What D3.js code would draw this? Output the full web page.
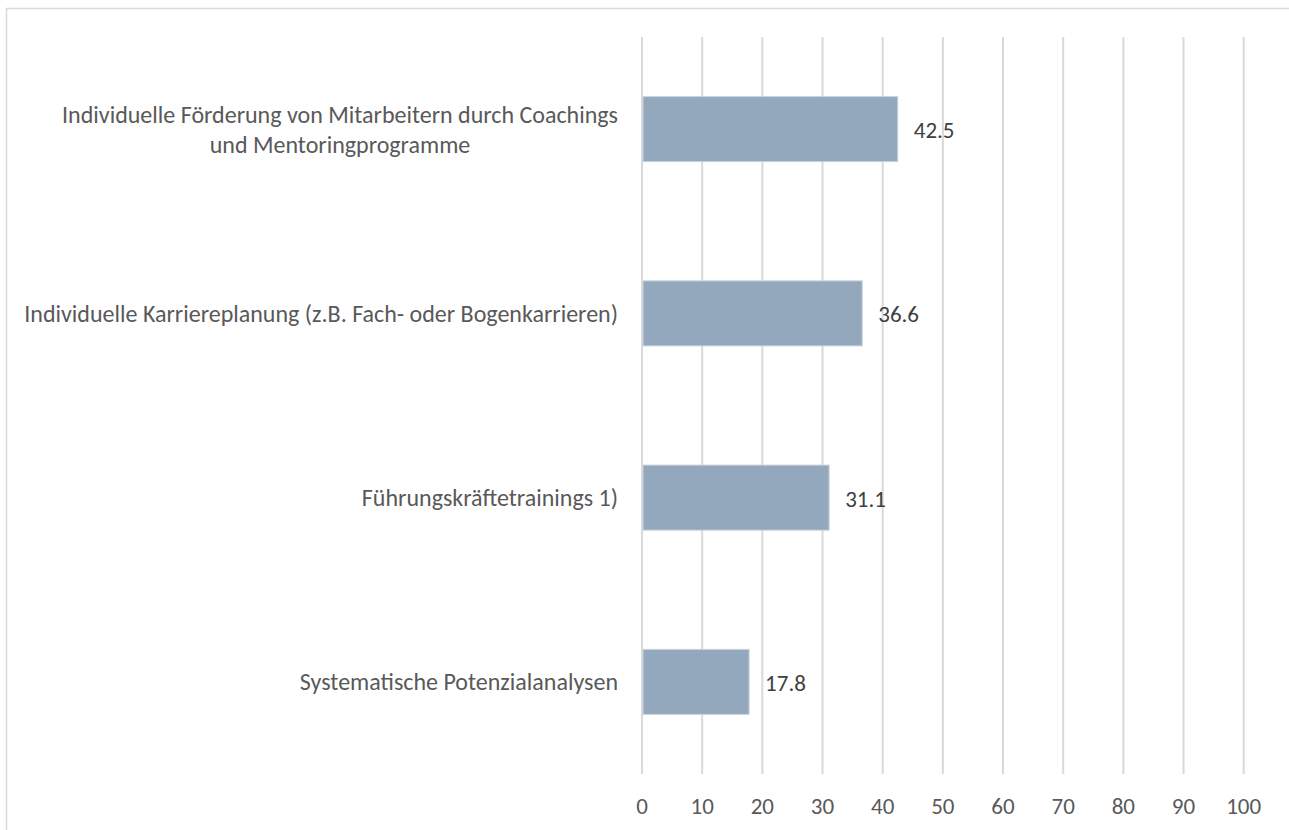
<!DOCTYPE html>
<html>
<head>
<meta charset="utf-8">
<script src="https://cdn.jsdelivr.net/npm/d3@7"></script>
<style>
  body { margin: 0; background: #fff; }
  svg { display: block; }
  text { font-family: Carlito, Calibri, Lato, sans-serif; }
</style>
</head>
<body>
<svg class="chart" width="1289" height="830"></svg>
<script>
const categories = [
  ["Individuelle Förderung von Mitarbeitern durch Coachings", "und Mentoringprogramme"],
  ["Individuelle Karriereplanung (z.B. Fach- oder Bogenkarrieren)"],
  ["Führungskräftetrainings 1)"],
  ["Systematische Potenzialanalysen"]
];
const values = [42.5, 36.6, 31.1, 17.8];
const tickValues = [0, 10, 20, 30, 40, 50, 60, 70, 80, 90, 100];

const svg = d3.select("svg.chart");

// outer frame, runs off the right and bottom edge
svg.append("rect")
  .attr("x", 6.5).attr("y", 8.5)
  .attr("width", 1300).attr("height", 900)
  .attr("fill", "none")
  .attr("stroke", "#d9d9d9")
  .attr("stroke-width", 1.5)

const x = d3.scaleLinear()
  .domain([0, 100])
  .range([642, 1243.7])

const y = d3.scaleBand()
  .domain(d3.range(values.length))
  .range([37, 774])
  .paddingInner(0.647)
  .paddingOuter(0.3235)

// gridlines
svg.append("g")
  .selectAll("line")
  .data(tickValues)
  .enter()
  .append("line")
  .attr("x1", d => x(d)).attr("x2", d => x(d))
  .attr("y1", 37).attr("y2", 774)
  .attr("stroke", "#d9d9d9")
  .attr("stroke-width", 2)

// tick labels
svg.append("g")
  .selectAll("text")
  .data(tickValues)
  .enter()
  .append("text")
  .attr("x", d => x(d))
  .attr("y", 806)
  .attr("dy", "0.35em")
  .attr("text-anchor", "middle")
  .attr("fill", "#595959")
  .style("font-size", "23px")
  .text(d => d)

// bars
svg.append("g")
  .selectAll("rect")
  .data(values)
  .enter()
  .append("rect")
  .attr("x", x(0) + 1)
  .attr("y", (d, i) => y(i))
  .attr("width", d => x(d) - x(0) - 1)
  .attr("height", y.bandwidth())
  .attr("fill", "#93a8bc")
  .attr("stroke", "#c8d3de")
  .attr("stroke-width", 1)

// value labels
svg.append("g")
  .selectAll("text")
  .data(values)
  .enter()
  .append("text")
  .attr("x", d => x(d) + 16)
  .attr("y", (d, i) => y(i) + y.bandwidth() / 2 + 1)
  .attr("dy", "0.35em")
  .attr("fill", "#404040")
  .style("font-size", "23px")
  .text(d => d.toFixed(1))

// category labels, lines centred on each other, block right aligned
const labelRight = 618;
const lineH = 30;
const catGroup = svg.append("g")
  .selectAll("text")
  .data(categories)
  .enter()
  .append("text")
  .attr("fill", "#595959")
  .style("font-size", "24px")
  .attr("text-anchor", "middle")

catGroup.each(function (lines, i) {
  const t = d3.select(this);
  const cy = y(i) + y.bandwidth() / 2;
  lines.forEach((s, j) => {
    t.append("tspan")
      .attr("y", cy + (j - (lines.length - 1) / 2) * lineH)
      .attr("dy", "0.35em")
      .text(s);
  });
  let w = 0;
  t.selectAll("tspan").each(function () { w = Math.max(w, this.getComputedTextLength()); });
  t.selectAll("tspan").attr("x", labelRight - w / 2);
});
</script>
</body>
</html>
